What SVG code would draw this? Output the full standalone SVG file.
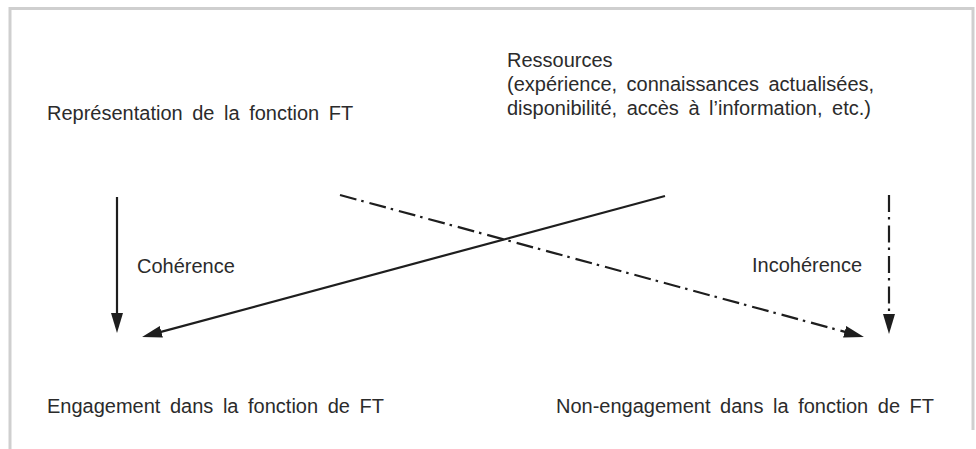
<svg xmlns="http://www.w3.org/2000/svg" width="976" height="449" viewBox="0 0 976 449">
<style>
  text { font-family: "Liberation Sans", Arial, sans-serif; font-size: 20px; fill: #2b2b2b; word-spacing: 4px; }
  .frame { fill: none; stroke: #cfcfcf; stroke-width: 3; }
  .solid { fill: none; stroke: #1e1e1e; stroke-width: 2.2; }
  .dashdot { fill: none; stroke: #1e1e1e; stroke-width: 2.2; stroke-dasharray: 17 5 2.5 6; }
</style>
<defs>
  <marker id="arrow" markerUnits="userSpaceOnUse" markerWidth="20" markerHeight="12" refX="10" refY="6" orient="auto" viewBox="0 0 20 12">
    <path d="M0,0 L20,6 L0,12 z" fill="#1e1e1e"/>
  </marker>
</defs>
<g id="frame">
  <path class="frame" d="M10,449 L10,8.5 L973,8.5 L973,430"/>
</g>
<g id="node-representation">
  <text x="47" y="120">Représentation de la fonction FT</text>
</g>
<g id="node-ressources">
  <text x="507" y="67">Ressources</text>
  <text x="507" y="91">(expérience, connaissances actualisées,</text>
  <text x="507" y="115">disponibilité, accès à l’information, etc.)</text>
</g>
<g id="node-engagement">
  <text x="47" y="413">Engagement dans la fonction de FT</text>
</g>
<g id="node-non-engagement">
  <text x="556" y="413">Non-engagement dans la fonction de FT</text>
</g>
<g id="connectors">
  <line class="solid" x1="117" y1="197" x2="117" y2="323" marker-end="url(#arrow)"/>
  <line class="solid" x1="665" y1="196" x2="151.7" y2="334.4" marker-end="url(#arrow)"/>
  <line class="dashdot" x1="340" y1="195" x2="854.3" y2="334.4" marker-end="url(#arrow)"/>
  <line class="dashdot" x1="889" y1="195" x2="889" y2="324" marker-end="url(#arrow)"/>
  <text x="137" y="273">Cohérence</text>
  <text x="752" y="272">Incohérence</text>
</g>
</svg>
